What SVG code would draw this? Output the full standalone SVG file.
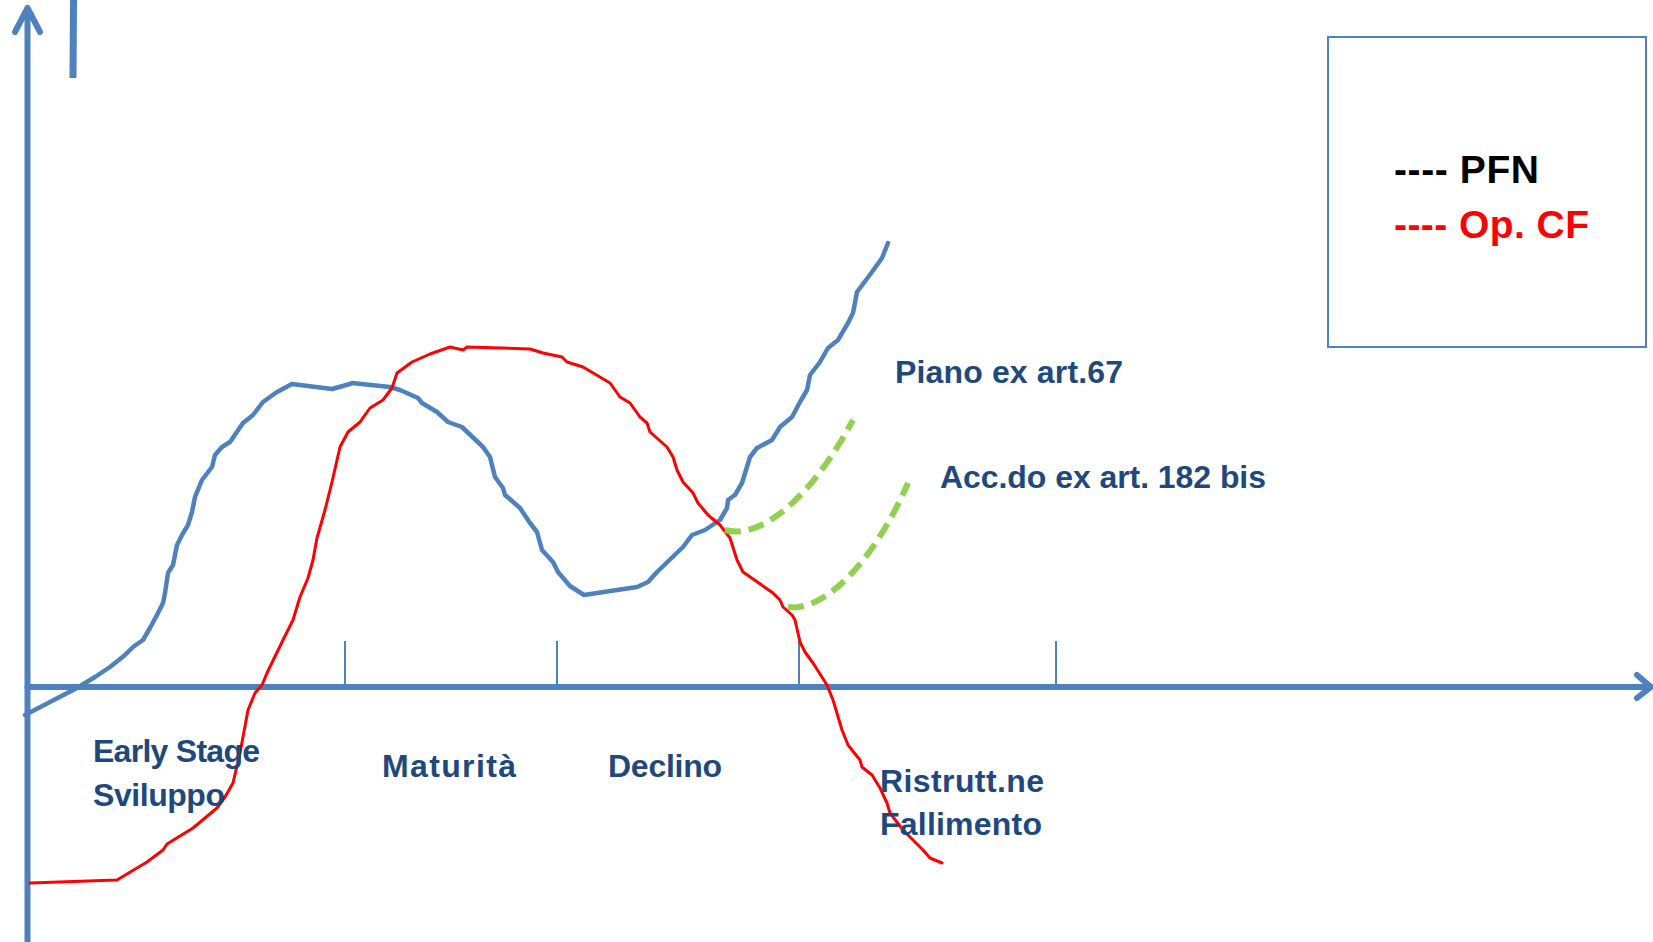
<svg xmlns="http://www.w3.org/2000/svg" width="1653" height="942" viewBox="0 0 1653 942">
<style>
.axis{fill:none;stroke:#4F81BD;stroke-width:6;stroke-linecap:round;stroke-linejoin:round}
.tick{stroke:#4F81BD;stroke-width:2}
.blue{fill:none;stroke:#4F81BD;stroke-width:4.5;stroke-linejoin:round;stroke-linecap:round}
.red{fill:none;stroke:#FF0000;stroke-width:3;stroke-linejoin:round;stroke-linecap:round}
.green{fill:none;stroke:#92D050;stroke-width:6;stroke-dasharray:16 8}
.lbl{font-family:"Liberation Sans",Arial,sans-serif;font-weight:bold;font-size:32px;fill:#1F497D}
.leg{font-family:"Liberation Sans",Arial,sans-serif;font-weight:bold;font-size:39px}
</style>
<rect width="1653" height="942" fill="#FFFFFF"/>
<g id="axes">
<line class="axis" x1="27.5" y1="10" x2="27.5" y2="945"/>
<polyline class="axis" points="15,32 27.5,8 40,32"/>
<line class="axis" x1="27.5" y1="687" x2="1648" y2="687"/>
<polyline class="axis" points="1637,675 1651,687 1637,698"/>
<line x1="73.5" y1="0" x2="73" y2="78" stroke="#4F81BD" stroke-width="7"/>
<line class="tick" x1="345" y1="641" x2="345" y2="687"/>
<line class="tick" x1="557" y1="641" x2="557" y2="687"/>
<line class="tick" x1="799" y1="641" x2="799" y2="687"/>
<line class="tick" x1="1056" y1="641" x2="1056" y2="687"/>
</g>
<g id="connectors">
<polyline id="pfn-curve" class="blue" points="25,715 50,702 77,688 95,677 110,667 125,655 133,647 143,640 150,628 157,615 163,603 165,593 168,573 173,565 177,545 182,535 188,525 192,512 195,497 202,480 212,467 215,455 222,447 230,442 243,423 253,415 263,402 277,392 292,384 332,389 350,384 352,383 390,387 400,390 418,398 422,403 437,412 448,422 462,427 483,447 490,457 495,477 503,488 505,495 520,508 530,523 537,532 542,550 553,562 558,572 570,586 584,595 637,587 648,582 657,572 683,547 692,535 705,530 720,520 727,508 728,500 735,495 742,483 750,457 757,448 772,440 780,427 792,417 800,402 807,390 810,375 820,362 828,348 838,340 848,323 853,313 857,292 872,272 882,258 888,243"/>
<polyline id="cf-curve" class="red" points="30,883 117,880 147,862 163,850 167,844 193,828 217,808 225,797 233,783 240,753 248,710 255,693 262,685 267,673 283,640 293,620 300,597 308,578 313,560 317,538 325,510 332,482 340,447 348,432 360,422 370,408 383,400 392,388 397,373 412,362 430,354 450,347 463,350 467,347 530,349 543,353 562,357 567,362 583,367 610,383 620,397 630,403 640,417 647,423 650,432 667,447 673,457 677,470 683,482 693,493 698,503 708,515 720,525 730,538 737,560 743,572 773,593 780,600 783,607 792,615 795,620 800,642 805,652 813,663 827,685 833,700 842,730 848,745 860,760 862,767 872,775 880,788 887,803 890,813 903,830 913,840 923,850 930,858 942,863"/>
<path id="piano-curve" class="green" d="M725,530 C760,540 810,500 853,420"/>
<path id="acc-curve" class="green" d="M788,607 C820,612 870,570 908,483"/>
</g>
<g id="legend">
<rect x="1328" y="37" width="318" height="310" fill="none" stroke="#4F81BD" stroke-width="2"/>
<text class="leg" x="1394" y="183" fill="#000000" textLength="145">---- PFN</text>
<text class="leg" x="1394" y="238" fill="#FF0000" textLength="195">---- Op. CF</text>
</g>
<g id="label-early">
<text class="lbl" x="93" y="762" textLength="167">Early Stage</text>
<text class="lbl" x="93" y="806" textLength="132">Sviluppo</text>
</g>
<g id="label-maturita"><text class="lbl" x="382" y="777" textLength="134">Maturità</text></g>
<g id="label-declino"><text class="lbl" x="608" y="777" textLength="114">Declino</text></g>
<g id="label-ristrutt">
<text class="lbl" x="880" y="792" textLength="164">Ristrutt.ne</text>
<text class="lbl" x="880" y="835" textLength="162">Fallimento</text>
</g>
<g id="label-piano"><text class="lbl" x="895" y="383" textLength="228">Piano ex art.67</text></g>
<g id="label-acc"><text class="lbl" x="940" y="488" textLength="326">Acc.do ex art. 182 bis</text></g>
</svg>
